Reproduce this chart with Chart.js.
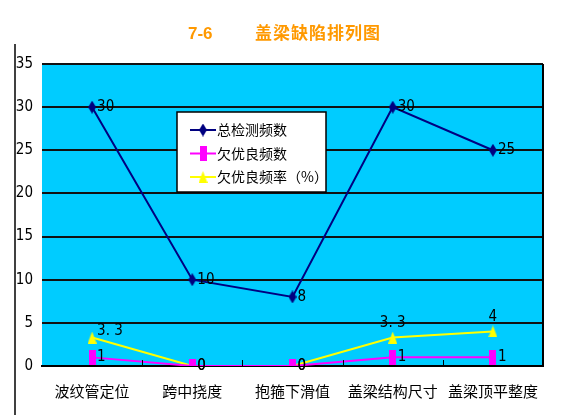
<!DOCTYPE html>
<html>
<head>
<meta charset="utf-8">
<script src="https://cdn.jsdelivr.net/npm/chart.js@4"></script>
<style>
  html, body { margin: 0; padding: 0; background: #fff; }
  #wrap { position: relative; width: 579px; height: 415px; }
  #title {
    position: absolute; top: 19px; left: 188px; white-space: nowrap;
    font: bold 17px "Noto Sans CJK SC", sans-serif; color: #FF9900;
  }
  #title .num { display: inline-block; width: 67px; font-family: "Liberation Sans", sans-serif; }
  #title .txt { letter-spacing: 1px; }
</style>
</head>
<body>
<div id="wrap">
  <div id="title"><span class="num">7-6</span><span class="txt">盖梁缺陷排列图</span></div>
  <canvas id="defectChart" width="579" height="415"></canvas>
</div>
<script>
// ===== DATA =====
const categories = ["波纹管定位", "跨中挠度", "抱箍下滑值", "盖梁结构尺寸", "盖梁顶平整度"];
const totalChecks = [30, 10, 8, 30, 25];     // 总检测频数
const failCounts = [1, 0, 0, 1, 1];          // 欠优良频数
const failRates = [3.3, 0, 0, 3.3, 4];       // 欠优良频率(%)
const yTicks = [0, 5, 10, 15, 20, 25, 30, 35];

const labelFont = '15px "Liberation Sans Narrow", "DejaVu Sans Condensed", sans-serif';

// ===== MARKERS (tall, like the original sheet) =====
function makeMarker(shape, w, h, color) {
  const c = document.createElement('canvas');
  c.width = w; c.height = h;
  const g = c.getContext('2d');
  g.fillStyle = color;
  g.beginPath();
  if (shape === 'diamond') {
    g.moveTo(w / 2, 0); g.lineTo(w, h / 2); g.lineTo(w / 2, h); g.lineTo(0, h / 2);
  } else if (shape === 'triangle') {
    g.moveTo(w / 2, 0); g.lineTo(w, h); g.lineTo(0, h);
  } else {
    g.rect(0, 0, w, h);
  }
  g.closePath();
  g.fill();
  return c;
}
const diamondMark = makeMarker('diamond', 8, 13, '#000080');
const squareMark = makeMarker('rect', 7, 15, '#FF00FF');
const triangleMark = makeMarker('triangle', 9, 12, '#FFFF00');

// ===== PLUGINS =====
// cyan plot background + frame line on the left
const backdrop = {
  id: 'backdrop',
  beforeDraw(chart) {
    const { ctx, chartArea: a } = chart;
    ctx.save();
    ctx.fillStyle = '#00CCFF';
    ctx.fillRect(a.left, a.top, a.right - a.left, a.bottom - a.top);
    ctx.strokeStyle = '#000';
    ctx.lineWidth = 1.5;
    ctx.beginPath();
    ctx.moveTo(15, 44);
    ctx.lineTo(15, 415);
    ctx.stroke();
    ctx.restore();
  },
  afterDatasetsDraw(chart) {
    const { ctx, chartArea: a } = chart;
    ctx.save();
    ctx.strokeStyle = '#000';
    ctx.lineWidth = 2;
    ctx.beginPath();
    ctx.moveTo(a.right, a.top);
    ctx.lineTo(a.right, a.bottom);
    ctx.stroke();
    // small inward ticks between categories
    const xs = chart.scales.x;
    ctx.lineWidth = 1;
    for (let i = 0; i < categories.length - 1; i++) {
      const x = Math.round((xs.getPixelForTick(i) + xs.getPixelForTick(i + 1)) / 2) + 0.5;
      ctx.beginPath();
      ctx.moveTo(x, a.bottom);
      ctx.lineTo(x, a.bottom - 6);
      ctx.stroke();
    }
    ctx.restore();
  }
};

// value labels next to each point
const valueLabels = {
  id: 'valueLabels',
  afterDatasetsDraw(chart) {
    const { ctx } = chart;
    ctx.save();
    ctx.font = labelFont;
    ctx.fillStyle = '#000';
    chart.data.datasets.forEach((ds, di) => {
      const meta = chart.getDatasetMeta(di);
      meta.data.forEach((pt, i) => {
        const v = ds.data[i];
        const txt = String(v).replace('.', '. ');
        if (di === 2 && i > 0 && v > 0) {
          ctx.textAlign = 'center';
          ctx.textBaseline = 'bottom';
          ctx.fillText(txt, pt.x, pt.y - 7);
        } else {
          ctx.textAlign = 'left';
          ctx.textBaseline = 'middle';
          ctx.fillText(txt, pt.x + 5, pt.y - (di === 2 && v > 0 ? 6 : 0));
        }
      });
    });
    ctx.restore();
  }
};

// boxed legend inside the plot
const boxLegend = {
  id: 'boxLegend',
  afterDraw(chart) {
    const { ctx } = chart;
    const bx = 177, by = 112, bw = 149, bh = 80;
    ctx.save();
    ctx.fillStyle = '#fff';
    ctx.fillRect(bx, by, bw, bh);
    ctx.strokeStyle = '#000';
    ctx.lineWidth = 1.5;
    ctx.strokeRect(bx, by, bw, bh);
    ctx.font = '14px "Noto Sans CJK SC", sans-serif';
    ctx.textBaseline = 'middle';
    ctx.textAlign = 'left';
    chart.data.datasets.forEach((ds, i) => {
      const y = by + 18 + i * 23.5;
      ctx.strokeStyle = ds.borderColor;
      ctx.lineWidth = 2;
      ctx.beginPath();
      ctx.moveTo(bx + 13, y);
      ctx.lineTo(bx + 39, y);
      ctx.stroke();
      const img = ds.pointStyle;
      ctx.drawImage(img, bx + 26 - img.width / 2, y - img.height / 2);
      ctx.fillStyle = '#000';
      ctx.fillText(ds.label, bx + 40, y);
    });
    ctx.restore();
  }
};

// ===== CHART =====
new Chart(document.getElementById('defectChart'), {
  type: 'line',
  data: {
    labels: categories,
    datasets: [
      {
        label: '总检测频数', data: totalChecks,
        borderColor: '#000080', backgroundColor: '#000080',
        pointStyle: diamondMark, borderWidth: 2
      },
      {
        label: '欠优良频数', data: failCounts,
        borderColor: '#FF00FF', backgroundColor: '#FF00FF',
        pointStyle: squareMark, borderWidth: 2
      },
      {
        label: '欠优良频率（%）', data: failRates,
        borderColor: '#FFFF00', backgroundColor: '#FFFF00',
        pointStyle: triangleMark, borderWidth: 2
      }
    ]
  },
  options: {
    responsive: false,
    animation: false,
    layout: { padding: { top: 64, right: 36, left: 0, bottom: 0 } },
    plugins: {
      legend: { display: false },
      tooltip: { enabled: false },
      title: { display: false }
    },
    elements: { line: { tension: 0 } },
    scales: {
      x: {
        offset: true,
        grid: { display: false, drawTicks: false },
        border: { display: true, color: '#000', width: 2 },
        ticks: {
          color: '#000', padding: 16,
          font: { family: '"Noto Sans CJK SC", sans-serif', size: 15 }
        },
        afterFit(scale) { scale.height = 49; }
      },
      y: {
        min: 0, max: 35,
        afterBuildTicks(scale) { scale.ticks = yTicks.map(v => ({ value: v })); },
        grid: { color: '#111', lineWidth: 2, drawTicks: false },
        border: { display: false },
        ticks: {
          color: '#000', padding: 9,
          font: { family: '"Liberation Sans Narrow", "DejaVu Sans Condensed", sans-serif', size: 15 }
        },
        afterFit(scale) { scale.width = 42; }
      }
    }
  },
  plugins: [backdrop, valueLabels, boxLegend]
});
</script>
</body>
</html>
